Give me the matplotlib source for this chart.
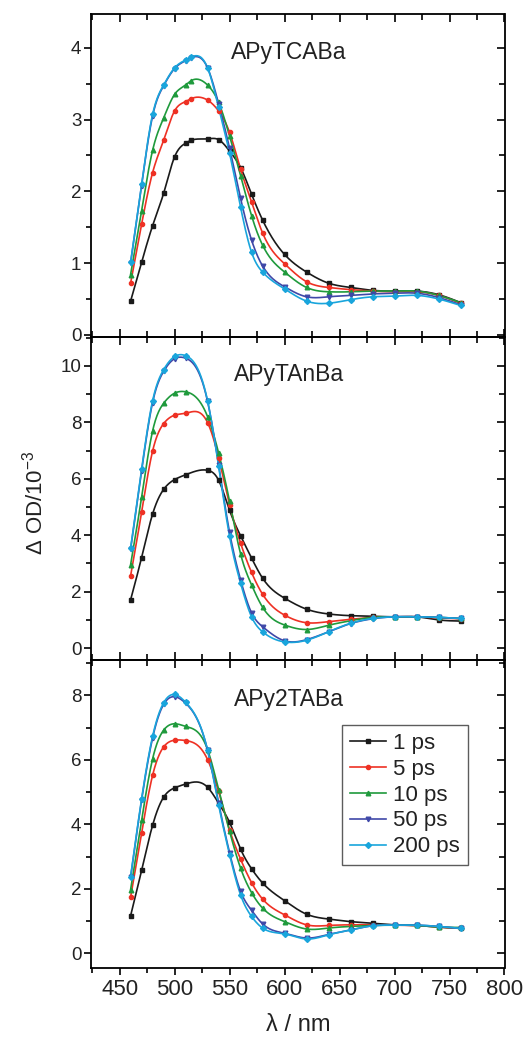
import numpy as np
import matplotlib
matplotlib.use("Agg")
import matplotlib.pyplot as plt
from matplotlib.ticker import MultipleLocator

plt.rcParams['font.family'] = ['Liberation Sans', 'DejaVu Sans']
plt.rcParams['mathtext.fontset'] = 'custom'
plt.rcParams['mathtext.rm'] = 'Liberation Sans'
plt.rcParams['mathtext.it'] = 'Liberation Sans:italic'
plt.rcParams['mathtext.bf'] = 'Liberation Sans:bold'

# ---------------- data ----------------
wl_top = [460, 470, 480, 490, 500, 510, 515, 530, 540, 550, 560, 570, 580,
          600, 620, 640, 660, 680, 700, 720, 740, 760]
wl = [460, 470, 480, 490, 500, 510, 530, 540, 550, 560, 570, 580,
      600, 620, 640, 660, 680, 700, 720, 740, 760]

labels = ["1 ps", "5 ps", "10 ps", "50 ps", "200 ps"]
panel_names = ["APyTCABa", "APyTAnBa", "APy2TABa"]

# APyTCABa
top_1ps = [0.47, 1.01, 1.52, 1.97, 2.48, 2.67, 2.71, 2.73, 2.72, 2.56, 2.33, 1.96, 1.60,
           1.12, 0.875, 0.72, 0.66, 0.62, 0.61, 0.61, 0.56, 0.45]
top_5ps = [0.72, 1.54, 2.26, 2.71, 3.12, 3.25, 3.29, 3.27, 3.12, 2.82, 2.31, 1.85, 1.42,
           0.99, 0.74, 0.66, 0.63, 0.61, 0.60, 0.60, 0.55, 0.44]
top_10ps = [0.84, 1.73, 2.57, 3.02, 3.35, 3.48, 3.54, 3.48, 3.24, 2.77, 2.22, 1.66, 1.25,
            0.875, 0.66, 0.60, 0.60, 0.61, 0.61, 0.61, 0.55, 0.45]
top_50ps = [1.00, 2.08, 3.05, 3.47, 3.71, 3.82, 3.86, 3.72, 3.22, 2.60, 1.90, 1.32, 0.96,
            0.67, 0.53, 0.53, 0.55, 0.57, 0.58, 0.58, 0.52, 0.42]
top_200ps = [1.01, 2.10, 3.07, 3.48, 3.72, 3.83, 3.87, 3.72, 3.17, 2.53, 1.78, 1.15, 0.875,
             0.64, 0.47, 0.44, 0.49, 0.53, 0.54, 0.55, 0.50, 0.41]

# APyTAnBa
mid_1ps = [1.71, 3.21, 4.75, 5.62, 5.97, 6.14, 6.30, 5.95, 4.88, 3.98, 3.19, 2.48,
           1.77, 1.38, 1.21, 1.15, 1.13, 1.11, 1.11, 1.00, 0.96]
mid_5ps = [2.56, 4.81, 6.98, 7.95, 8.25, 8.32, 7.99, 6.75, 5.08, 3.72, 2.68, 1.91,
           1.17, 0.90, 0.94, 1.02, 1.09, 1.11, 1.11, 1.07, 1.04]
mid_10ps = [2.95, 5.34, 7.69, 8.67, 9.03, 9.08, 8.20, 6.92, 5.20, 3.34, 2.24, 1.45,
            0.82, 0.66, 0.81, 0.97, 1.09, 1.11, 1.11, 1.09, 1.05]
mid_50ps = [3.50, 6.28, 8.70, 9.80, 10.25, 10.27, 8.74, 6.50, 4.10, 2.42, 1.25, 0.76,
            0.26, 0.30, 0.58, 0.87, 1.04, 1.11, 1.11, 1.09, 1.05]
mid_200ps = [3.54, 6.33, 8.76, 9.86, 10.33, 10.36, 8.76, 6.45, 3.96, 2.30, 1.11, 0.58,
             0.22, 0.28, 0.58, 0.88, 1.05, 1.11, 1.11, 1.09, 1.05]

# APy2TABa
bot_1ps = [1.16, 2.57, 3.97, 4.84, 5.13, 5.25, 5.15, 4.66, 4.06, 3.23, 2.62, 2.18,
           1.63, 1.21, 1.06, 0.98, 0.93, 0.88, 0.86, 0.81, 0.77]
bot_5ps = [1.74, 3.73, 5.52, 6.40, 6.61, 6.60, 6.01, 5.02, 3.83, 2.92, 2.19, 1.68,
           1.19, 0.88, 0.86, 0.88, 0.88, 0.87, 0.86, 0.81, 0.77]
bot_10ps = [1.97, 4.12, 6.03, 6.92, 7.12, 7.04, 6.32, 5.08, 3.78, 2.64, 1.88, 1.40,
            0.98, 0.75, 0.78, 0.83, 0.86, 0.87, 0.86, 0.81, 0.80]
bot_50ps = [2.35, 4.75, 6.68, 7.72, 7.96, 7.76, 6.30, 4.66, 3.12, 1.92, 1.33, 0.91,
            0.62, 0.47, 0.58, 0.72, 0.85, 0.87, 0.87, 0.83, 0.77]
bot_200ps = [2.38, 4.79, 6.73, 7.77, 8.03, 7.79, 6.30, 4.61, 3.06, 1.81, 1.14, 0.78,
             0.60, 0.44, 0.57, 0.72, 0.85, 0.87, 0.87, 0.83, 0.77]

panels = [
    (wl_top, [top_1ps, top_5ps, top_10ps, top_50ps, top_200ps]),
    (wl, [mid_1ps, mid_5ps, mid_10ps, mid_50ps, mid_200ps]),
    (wl, [bot_1ps, bot_5ps, bot_10ps, bot_50ps, bot_200ps]),
]

colors = ["#1a1a1a", "#ee3124", "#1f9a3c", "#3f48a8", "#19a5dc"]
markers = ["s", "o", "^", "v", "D"]
msizes = [2.8, 3.0, 3.3, 3.3, 3.0]


def natural_spline(x, y, n=400):
    x = np.asarray(x, float)
    y = np.asarray(y, float)
    m = len(x)
    h = np.diff(x)
    A = np.zeros((m, m))
    b = np.zeros(m)
    A[0, 0] = A[-1, -1] = 1.0
    for i in range(1, m - 1):
        A[i, i - 1] = h[i - 1]
        A[i, i] = 2 * (h[i - 1] + h[i])
        A[i, i + 1] = h[i]
        b[i] = 3 * ((y[i + 1] - y[i]) / h[i] - (y[i] - y[i - 1]) / h[i - 1])
    c = np.linalg.solve(A, b)
    xs = np.linspace(x[0], x[-1], n)
    idx = np.clip(np.searchsorted(x, xs) - 1, 0, m - 2)
    dx = xs - x[idx]
    bb = (y[idx + 1] - y[idx]) / h[idx] - h[idx] * (2 * c[idx] + c[idx + 1]) / 3
    d = (c[idx + 1] - c[idx]) / (3 * h[idx])
    ys = y[idx] + bb * dx + c[idx] * dx ** 2 + d * dx ** 3
    return xs, ys


fig = plt.figure(figsize=(5.25, 10.38), dpi=100)
W, H = 525.0, 1038.0
left, right = 91 / W, 504.5 / W
bounds = [(14, 337), (337, 660), (660, 968)]
ylims = [(-0.03, 4.47), (-0.42, 11.02), (-0.46, 9.1)]
ymaj = [1, 2, 2]
ymin = [0.5, 1, 1]
label_y = [0.882, 0.885, 0.873]

axes = []
for k, ((t, b), (x, series)) in enumerate(zip(bounds, panels)):
    ax = fig.add_axes([left, 1 - b / H, right - left, (b - t) / H])
    ax.patch.set_alpha(0)
    for s, col, mk, ms, lab in zip(series, colors, markers, msizes, labels):
        xs, ys = natural_spline(x, s)
        ax.plot(xs, ys, color=col, lw=1.2, zorder=2)
        ax.plot(x, s, ls='none', marker=mk, ms=ms, color=col, zorder=3)
        if k == 2:
            ax.plot([], [], color=col, lw=1.2, marker=mk, ms=ms, label=lab)
    ax.set_xlim(424, 800)
    ax.set_ylim(*ylims[k])
    ax.xaxis.set_major_locator(MultipleLocator(50))
    ax.xaxis.set_minor_locator(MultipleLocator(25))
    ax.yaxis.set_major_locator(MultipleLocator(ymaj[k]))
    ax.yaxis.set_minor_locator(MultipleLocator(ymin[k]))
    for sp in ax.spines.values():
        sp.set_linewidth(1.3)
    ax.tick_params(axis='y', which='both', left=True, right=False, direction='out',
                   labelsize=13.5, width=1.2, pad=2, labelcolor='#222222')
    ax.tick_params(axis='y', which='major', length=5)
    ax.tick_params(axis='y', which='minor', length=3.5)
    ax.tick_params(axis='x', which='both', top=True, bottom=True, direction='in', width=1.2,
                   labelbottom=(k == 2), labelsize=16, labelcolor='#222222')
    ax.tick_params(axis='x', which='major', length=6)
    ax.tick_params(axis='x', which='minor', length=4)
    axr = ax.twinx()
    axr.set_ylim(*ylims[k])
    axr.yaxis.set_major_locator(MultipleLocator(ymaj[k]))
    axr.yaxis.set_minor_locator(MultipleLocator(ymin[k]))
    axr.tick_params(axis='y', which='both', direction='in', labelright=False, width=1.2)
    axr.tick_params(axis='y', which='major', length=6)
    axr.tick_params(axis='y', which='minor', length=4)
    for sp in axr.spines.values():
        sp.set_visible(False)
    ax.text(0.479, label_y[k], panel_names[k], transform=ax.transAxes,
            ha='center', va='center', fontsize=16.5, color='#222222')
    axes.append(ax)

# bottom panel: outward bottom ticks, inward top ticks
axb = axes[2]
axb.tick_params(axis='x', which='both', bottom=True, top=False, direction='out')
axb.tick_params(axis='x', which='major', length=5, pad=3)
axb.tick_params(axis='x', which='minor', length=3.5)
axt = axb.secondary_xaxis('top')
axt.xaxis.set_major_locator(MultipleLocator(50))
axt.xaxis.set_minor_locator(MultipleLocator(25))
axt.tick_params(axis='x', which='both', direction='in', labeltop=False, width=1.2)
axt.tick_params(axis='x', which='major', length=6)
axt.tick_params(axis='x', which='minor', length=4)
axt.spines['top'].set_visible(False)

axb.set_xlabel("λ / nm", fontsize=17, labelpad=10, color='#222222')

leg = axb.legend(loc='upper left',
                 bbox_to_anchor=((342 - 91) / (504.5 - 91), (968 - 725) / (968 - 660)),
                 fontsize=16, frameon=True, fancybox=False, edgecolor='#333333',
                 handlelength=1.65, handletextpad=0.3, borderpad=0.35, labelspacing=0.22,
                 borderaxespad=0, markerscale=1.0)
leg.get_frame().set_linewidth(1.0)
for t in leg.get_texts():
    t.set_color('#222222')

fig.text(35 / W, 1 - 503 / H, r"Δ OD/10$^{-3}$", rotation=90, ha='center', va='center',
         fontsize=16, color='#222222')

fig.savefig("out.png", dpi=100)
